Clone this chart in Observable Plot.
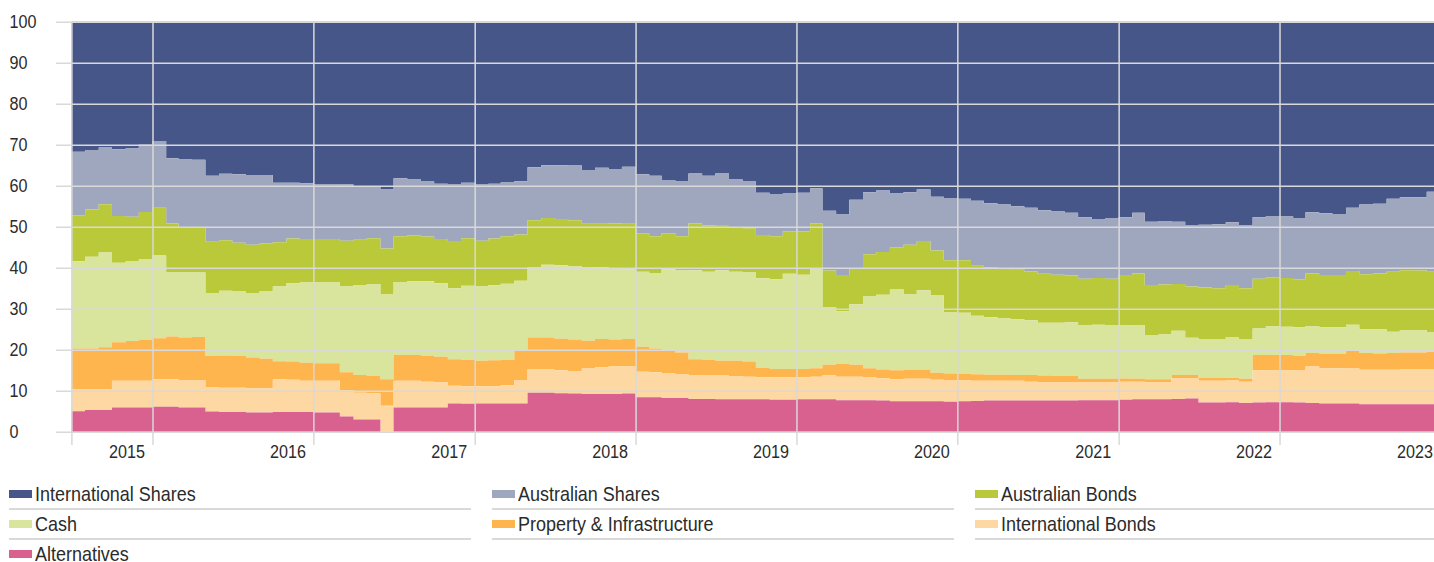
<!DOCTYPE html>
<html>
<head>
<meta charset="utf-8">
<script src="https://cdn.jsdelivr.net/npm/d3@7"></script>
<script src="https://cdn.jsdelivr.net/npm/@observablehq/plot@0.6"></script>
<style>
html, body { margin: 0; padding: 0; background: #fff; overflow: hidden; }
#wrap { position: relative; width: 1434px; height: 562px; font-family: "Liberation Sans", Arial, sans-serif; }
#wrap svg { display: block; }
#legend { position: absolute; left: 9px; top: 480px; display: grid; grid-template-columns: 462px 462px 459px; column-gap: 21px; }
.item { display: flex; align-items: center; height: 28px; border-bottom: 2px solid #d9d9d9; font-size: 21px; color: #2b2b2b; white-space: nowrap; }
.sw { width: 23px; height: 8px; margin-right: 3px; flex: none; }
.lbl { display: inline-block; line-height: 16px; transform: scaleX(0.855); transform-origin: 0 50%; }
</style>
</head>
<body>
<div id="wrap"><div id="legend"></div></div>
<script>
// Series names (legend order, top of stack first) and colours
const seriesNames = ["International Shares", "Australian Shares", "Australian Bonds", "Cash", "Property & Infrastructure", "International Bonds", "Alternatives"];
const seriesColors = ["#465689", "#9fa7bf", "#b9c939", "#d9e49d", "#feb54e", "#fdd8a2", "#d96190"];

// Monthly allocations (%), first month July 2014
const intlShares = [31.7,31.3,30.7,31.1,30.9,30.0,29.1,33.3,33.6,33.7,37.6,37.1,37.2,37.4,37.4,39.3,39.3,39.4,39.6,39.6,39.7,40.1,40.3,40.9,38.2,38.5,39.0,39.5,39.6,39.3,39.7,39.5,39.2,38.9,35.5,35.0,35.0,35.1,36.2,35.6,35.9,35.4,37.2,37.6,38.6,39.0,37.0,37.6,37.0,38.5,39.0,41.7,42.0,41.9,41.7,40.6,46.1,47.0,43.4,41.6,41.2,41.9,41.6,40.9,42.7,43.0,43.2,43.7,44.3,44.6,45.0,45.4,46.0,46.3,46.6,47.7,48.1,48.0,47.7,46.6,48.8,48.6,48.8,49.6,49.5,49.4,48.9,49.7,47.7,47.4,47.5,47.9,46.5,46.7,46.9,45.4,44.6,44.4,43.2,42.8,42.8,41.5];
const ausShares = [15.5,14.5,13.8,16.3,16.7,16.4,16.3,15.9,16.6,16.5,16.1,16.2,16.7,17.0,16.7,14.5,13.6,13.6,13.4,13.4,13.7,13.1,12.5,14.4,14.1,13.6,13.4,13.5,13.9,13.5,13.7,13.4,13.1,13.0,12.9,12.9,13.1,13.3,13.1,13.7,13.3,13.9,14.4,14.7,13.0,13.3,12.2,12.1,12.6,11.7,11.4,10.3,10.3,9.2,9.5,8.6,14.6,14.8,16.9,15.1,15.0,13.1,12.8,12.6,13.1,15.2,15.0,15.8,15.6,15.6,15.5,15.5,15.5,15.4,15.3,15.0,14.4,14.7,14.1,14.8,15.4,15.5,15.2,15.0,15.3,15.6,15.3,15.3,15.0,14.9,15.0,14.9,14.9,15.1,14.9,15.4,17.0,17.0,17.8,17.8,17.9,19.5];
const ausBonds = [11.2,11.5,11.8,11.4,10.9,11.5,11.6,12.0,11.0,11.0,12.6,12.3,11.9,11.8,11.6,10.8,10.9,10.6,10.6,10.6,11.2,11.0,11.2,11.1,11.2,11.2,10.9,10.8,11.5,11.6,11.2,11.4,11.6,11.3,11.4,11.4,11.3,11.2,10.5,10.6,11.0,11.1,9.4,9.1,8.8,8.4,11.4,11.3,11.0,10.8,10.8,10.6,10.5,10.4,10.5,11.0,8.9,8.8,8.6,10.3,10.4,10.3,12.0,12.0,11.0,12.7,12.8,12.2,12.2,12.2,12.1,11.9,11.9,11.7,11.4,11.3,11.4,11.3,12.3,12.6,12.2,12.2,11.4,12.5,12.7,12.5,12.7,12.4,12.1,11.9,11.9,11.7,12.8,12.7,12.7,13.1,13.4,13.6,14.6,14.6,14.5,14.7];
const cash = [21.3,22.4,23.1,19.4,19.4,19.7,20.2,15.6,15.8,15.7,15.2,15.8,15.7,15.7,16.5,18.2,19.1,19.6,19.7,19.7,20.9,22.0,22.4,20.8,17.8,18.0,18.2,17.9,17.3,18.1,18.1,18.3,18.6,17.1,17.2,17.7,17.9,17.9,18.0,17.5,17.3,17.0,18.3,18.3,19.8,20.0,21.7,21.5,22.1,21.7,21.7,21.8,21.9,23.2,23.0,24.3,14.1,12.9,14.8,17.5,18.2,19.7,18.5,19.4,18.8,14.9,14.9,14.3,14.0,13.7,13.6,13.4,12.9,13.0,13.1,13.1,13.2,13.1,12.9,13.1,10.8,10.9,10.8,9.1,9.4,9.4,10.0,9.7,6.5,7.1,6.9,7.0,6.6,6.5,6.5,6.4,5.8,5.9,5.2,5.5,5.5,4.8];
const property = [10.0,10.0,10.3,9.4,9.7,10.0,10.0,10.4,10.4,10.5,7.7,7.9,7.8,7.5,7.2,4.4,4.4,4.4,4.3,4.3,4.3,4.3,4.2,6.5,6.3,6.3,6.3,6.3,6.5,6.4,6.2,6.3,6.2,7.1,7.7,7.8,7.7,7.7,6.8,6.9,6.6,6.7,6.1,5.8,5.6,5.2,3.9,3.8,3.6,3.7,3.7,2.3,2.0,2.0,2.0,2.1,2.6,3.1,2.9,2.3,2.2,2.2,2.2,2.2,1.7,1.7,1.6,1.6,1.5,1.5,1.4,1.6,1.7,1.6,1.6,0.9,0.9,0.9,0.8,0.7,0.8,0.8,0.7,0.7,0.7,0.7,0.6,0.7,3.8,3.8,3.8,3.6,3.3,3.5,3.5,4.3,4.1,4.0,4.1,4.1,4.1,4.3];
const intlBonds = [5.3,5.0,5.0,6.5,6.5,6.5,6.7,6.7,6.7,6.7,5.9,5.9,5.9,5.9,5.9,8.0,7.9,7.6,7.7,7.7,6.5,6.5,6.4,6.3,6.5,6.5,6.3,6.1,4.3,4.3,4.2,4.2,4.4,5.7,5.8,5.7,5.6,5.5,6.2,6.5,6.7,6.6,6.2,6.1,6.0,5.9,5.8,5.7,5.8,5.7,5.5,5.4,5.5,5.5,5.4,5.5,5.8,5.7,5.7,5.5,5.4,5.4,5.5,5.5,5.3,5.2,5.1,4.9,4.8,4.8,4.8,4.6,4.4,4.4,4.4,4.3,4.3,4.3,4.4,4.3,4.1,4.1,5.1,5.0,5.3,5.3,5.3,5.2,7.8,7.7,7.7,7.8,8.9,8.6,8.6,8.5,8.4,8.4,8.4,8.5,8.5,8.5];
const alternatives = [5.0,5.3,5.3,5.9,5.9,5.9,6.1,6.1,5.9,5.9,4.9,4.8,4.8,4.7,4.7,4.8,4.8,4.8,4.7,4.7,3.7,3.0,3.0,0.0,5.9,5.9,5.9,5.9,6.9,6.8,6.9,6.9,6.9,6.9,9.5,9.5,9.4,9.3,9.2,9.2,9.2,9.3,8.4,8.4,8.2,8.2,8.0,8.0,7.9,7.9,7.9,7.9,7.8,7.8,7.9,7.9,7.9,7.7,7.7,7.7,7.6,7.4,7.4,7.4,7.4,7.3,7.4,7.5,7.6,7.6,7.6,7.6,7.6,7.6,7.6,7.7,7.7,7.7,7.8,7.9,7.9,7.9,8.0,8.1,7.1,7.1,7.2,7.0,7.1,7.2,7.2,7.1,7.0,6.9,6.9,6.9,6.7,6.7,6.7,6.7,6.7,6.7];

const seriesValues = [intlShares, ausShares, ausBonds, cash, property, intlBonds, alternatives];

// Axis ticks / labels
const yTicks = [0, 10, 20, 30, 40, 50, 60, 70, 80, 90, 100];
const yearLabels = ["2015", "2016", "2017", "2018", "2019", "2020", "2021", "2022", "2023"];

const startMonth = new Date(Date.UTC(2014, 6, 1));
const months = intlShares.map((_, i) => d3.utcMonth.offset(startMonth, i));
const endDate = d3.utcMonth.offset(startMonth, months.length);
const yearTicks = yearLabels.map(y => new Date(Date.UTC(+y, 0, 1)));
const gridDates = [startMonth, ...yearTicks];

// Long table; each series closes with its last value at the end of its final month
const rows = [];
seriesNames.forEach((name, s) => {
  const vals = seriesValues[s];
  vals.forEach((v, i) => rows.push({date: months[i], series: name, value: v}));
  rows.push({date: endDate, series: name, value: vals[vals.length - 1]});
});
const stackOrder = seriesNames.slice().reverse(); // bottom first

const font = '"Liberation Sans", Arial, sans-serif';

const chart = Plot.plot({
  width: 1434,
  height: 472,
  marginLeft: 71,
  marginRight: 0,
  marginTop: 22,
  marginBottom: 40,
  x: {type: "utc", domain: [startMonth, endDate], range: [71.4, 1440.4]},
  y: {domain: [0, 100], range: [431.7, 21.7]},
  color: {domain: seriesNames, range: seriesColors},
  style: {fontFamily: font, fontSize: "19px", color: "#2b2b2b", background: "white"},
  marks: [
    Plot.areaY(rows, {x: "date", y: "value", z: "series", fill: "series", order: stackOrder, curve: "step-after"}),
    Plot.ruleY(yTicks, {stroke: "#d9d9d9", strokeWidth: 1.5, insetLeft: -15}),
    Plot.ruleX(gridDates, {stroke: "#d9d9d9", strokeWidth: 1.5, insetBottom: -13}),
    Plot.axisY({ticks: yTicks, tickSize: 0, tickPadding: 0, textAnchor: "start", dx: -62, fontSize: 19, fill: "#2b2b2b", label: null}),
    Plot.axisX({ticks: yearTicks, tickSize: 0, tickPadding: 0, tickFormat: d3.utcFormat("%Y"), textAnchor: "end", dx: -8, dy: 19, lineAnchor: "middle", fontSize: 19, fill: "#2b2b2b", label: null})
  ]
});

// Condense the tick labels horizontally around their anchors (narrow face look)
chart.querySelectorAll('g[aria-label$="tick label"] text').forEach(t => {
  let pre = "";
  const xa = t.getAttribute("x");
  if (xa !== null && isFinite(parseFloat(xa)) && !/em/.test(xa)) {
    pre = ` translate(${parseFloat(xa)},0)`;
    t.removeAttribute("x");
  }
  const tr = t.getAttribute("transform") || "";
  t.setAttribute("transform", `${tr}${pre} scale(0.85,1)`);
});

const wrap = document.getElementById("wrap");
wrap.insertBefore(chart, wrap.firstChild);

const legend = document.getElementById("legend");
seriesNames.forEach((name, i) => {
  const item = document.createElement("div");
  item.className = "item";
  const sw = document.createElement("span");
  sw.className = "sw";
  sw.style.background = seriesColors[i];
  const label = document.createElement("span");
  label.className = "lbl";
  label.textContent = name;
  item.appendChild(sw);
  item.appendChild(label);
  legend.appendChild(item);
});
</script>
</body>
</html>
